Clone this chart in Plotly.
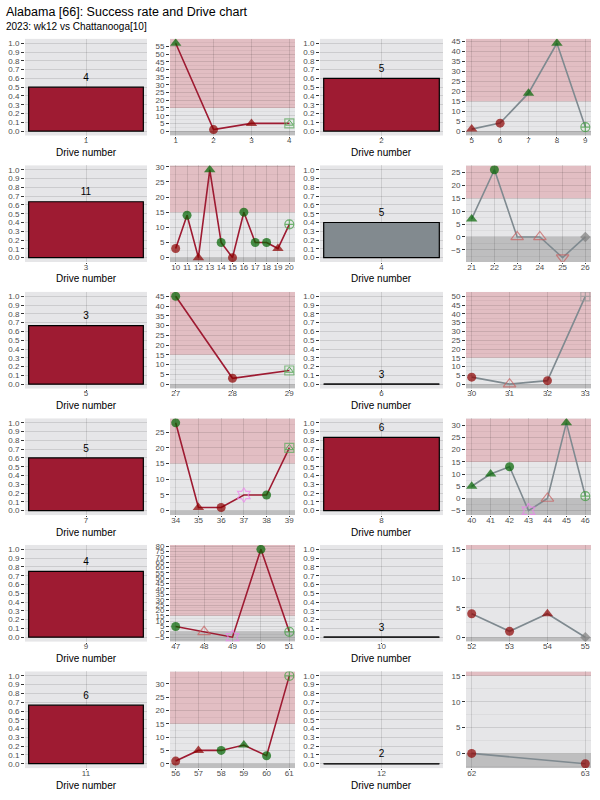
import plotly.graph_objects as go

# ---------------- data ----------------
drive_numbers = [1, 2, 3, 4, 5, 6, 7, 8, 9, 10, 11, 12]
drive_play_counts = [4, 5, 11, 5, 3, 3, 5, 6, 4, 3, 6, 2]
drive_success_rates = [0.5, 0.6, 7 / 11, 0.4, 2 / 3, 0.0, 0.6, 5 / 6, 0.75, 0.0, 2 / 3, 0.0]
bar_kind = ["c", "c", "c", "g", "c", "c", "c", "c", "c", "c", "c", "c"]
line_kind = ["c", "g", "c", "g", "c", "g", "c", "g", "c", "g", "c", "g"]

play_ids = [
    [1, 2, 3, 4],
    [5, 6, 7, 8, 9],
    [10, 11, 12, 13, 14, 15, 16, 17, 18, 19, 20],
    [21, 22, 23, 24, 25, 26],
    [27, 28, 29],
    [30, 31, 32, 33],
    [34, 35, 36, 37, 38, 39],
    [40, 41, 42, 43, 44, 45, 46],
    [47, 48, 49, 50, 51],
    [52, 53, 54, 55],
    [56, 57, 58, 59, 60, 61],
    [62, 63],
]
play_yards = [
    [57, 1, 5, 5],
    [1, 4, 19, 44, 2],
    [3, 14, 0, 29, 5, 0, 15, 5, 5, 3, 11],
    [7, 26, 0, 0, -8, 0],
    [45, 3, 7],
    [4, 0, 2, 50],
    [28, 1, 1, 5, 5, 20],
    [5, 10, 13, -5, 0, 31, 1],
    [5, 0, -5, 77, 0],
    [4, 1, 4, 0],
    [1, 5, 5, 7, 3, 33],
    [0, -2],
]
# R run, P pass, I incomplete, K kick, F field goal, S sack, E end, T turnover, X other
play_types = [
    ["P", "R", "P", "F"],
    ["P", "R", "P", "P", "K"],
    ["R", "R", "P", "P", "R", "R", "R", "R", "R", "P", "K"],
    ["P", "R", "I", "I", "T", "E"],
    ["R", "R", "F"],
    ["R", "I", "R", "X"],
    ["R", "P", "R", "S", "R", "F"],
    ["P", "P", "R", "S", "I", "P", "K"],
    ["R", "I", "S", "R", "K"],
    ["R", "R", "P", "E"],
    ["R", "P", "R", "P", "R", "K"],
    ["R", "R"],
]
play_success = [
    [1, 0, 0, 1],
    [0, 0, 1, 1, 1],
    [0, 1, 0, 1, 1, 0, 1, 1, 1, 0, 1],
    [1, 1, 0, 0, 0, 0],
    [1, 0, 1],
    [0, 0, 0, 0],
    [1, 0, 0, 0, 1, 1],
    [1, 1, 1, 0, 0, 1, 1],
    [1, 0, 0, 1, 1],
    [0, 0, 0, 0],
    [0, 0, 1, 1, 1, 1],
    [0, 0],
]

# ---------------- style ----------------
W, H = 600, 800
FONT = "Liberation Sans, Arial, sans-serif"
CRIMSON = "#9E1B32"
GRAYBAR = "#828A8F"
PANEL_BG = "#E6E6E8"
GRID = "rgba(0,0,0,0.11)"
MINOR = "rgba(0,0,0,0.045)"
GREEN = "#006400"
DARKRED = "#8B0000"

sym_map = {"R": "circle", "P": "triangle-up", "I": "triangle-up-open", "K": "circle-cross-open",
           "F": "square-open", "S": "hexagram-open", "E": "diamond", "T": "triangle-down-open",
           "X": "square-cross-open"}
size_map = {"R": 9, "P": 10, "I": 11, "K": 9, "F": 9, "S": 11, "E": 8, "T": 11, "X": 9}
fixed_col = {"I": "#C86060", "K": "#3A9A3A", "F": "#5AAA5A", "S": "#EE82EE", "E": "#7F7F7F",
             "T": "#C86060", "X": "#9A9A9A"}

row_top0, row_step, panel_h = 36, 127, 97
col_x = [(25, 147), (170, 295), (320, 443), (466, 591)]

fig = go.Figure()
layout = dict(width=W, height=H, margin=dict(l=0, r=0, t=0, b=0),
              paper_bgcolor="white", plot_bgcolor=PANEL_BG, showlegend=False,
              font=dict(family=FONT), shapes=[], annotations=[])


def axname(prefix, k):
    return prefix + ("" if k == 1 else str(k))


def base_axis():
    return dict(showgrid=True, gridcolor=GRID, gridwidth=1, zeroline=False, ticks="outside",
                ticklen=3, tickcolor="#333333", tickwidth=1, showline=False, fixedrange=True,
                tickfont=dict(size=8, color="#4D4D4D", family=FONT))


BW = 0.94
for d in range(12):
    r = d // 2
    for half in range(2):
        c = (d % 2) * 2 + half
        k = r * 4 + c + 1
        top = row_top0 + r * row_step
        bot = top + panel_h
        x0p, x1p = col_x[c]
        xa = base_axis()
        ya = base_axis()
        xa.update(domain=[x0p / W, x1p / W], anchor=axname("y", k), tickangle=0, ticklen=1,
                  ticklabelstandoff=-4)
        ya.update(domain=[1 - bot / H, 1 - top / H], anchor=axname("x", k))
        xr, yr = axname("x", k), axname("y", k)
        if half == 0:
            rate = drive_success_rates[d]
            col = CRIMSON if bar_kind[d] == "c" else GRAYBAR
            fig.add_trace(go.Bar(x=[0], y=[rate], width=BW, marker=dict(color=col, line=dict(color="black", width=1.2)),
                                 xaxis=xr, yaxis=yr, hoverinfo="skip"))
            if rate == 0:
                fig.add_trace(go.Scatter(x=[-BW / 2, BW / 2], y=[rate, rate], mode="lines",
                                         line=dict(color="#222222", width=1.5), xaxis=xr, yaxis=yr, hoverinfo="skip"))
            fig.add_trace(go.Scatter(x=[0], y=[rate + 0.1], mode="text", text=[str(drive_play_counts[d])],
                                     textfont=dict(size=10, color="black", family=FONT), xaxis=xr, yaxis=yr,
                                     hoverinfo="skip"))
            xa.update(range=[-0.5, 0.5], tickvals=[0], ticktext=[str(drive_numbers[d])])
            ya.update(range=[-0.05, 1.05], tickvals=[i / 10 for i in range(11)], tickformat=".1f")
            layout["annotations"].append(dict(text="Drive number", xref="paper", yref="paper",
                                              x=(x0p + x1p) / 2 / W, y=1 - (bot + 17) / H,
                                              xanchor="center", yanchor="middle", showarrow=False,
                                              font=dict(size=10, color="black", family=FONT)))
        else:
            ids, yds, tps, suc = play_ids[d], play_yards[d], play_types[d], play_success[d]
            lo = min(min(yds), 0)
            hi = max(max(yds), 15)
            pad = 0.05 * (hi - lo)
            y_lo, y_hi = lo - pad, hi + pad
            xpad = 0.05 * (max(ids) - min(ids))
            xa.update(range=[min(ids) - xpad, max(ids) + xpad], tickvals=ids, ticktext=[str(i) for i in ids])
            ya.update(range=[y_lo, y_hi], tick0=0, dtick=5,
                      minor=dict(showgrid=True, gridcolor=MINOR, gridwidth=0.6, dtick=2.5, tick0=0, ticks=""))
            layout["shapes"].append(dict(type="rect", xref=xr + " domain", yref=yr, x0=0, x1=1, y0=15, y1=y_hi,
                                         fillcolor="rgba(215,70,85,0.25)", line=dict(width=0), layer="below"))
            layout["shapes"].append(dict(type="rect", xref=xr + " domain", yref=yr, x0=0, x1=1, y0=y_lo, y1=0,
                                         fillcolor="rgba(110,110,110,0.33)", line=dict(width=0), layer="below"))
            lc = CRIMSON if line_kind[d] == "c" else "#7F8A90"
            fig.add_trace(go.Scatter(x=ids, y=yds, mode="lines", line=dict(color=lc, width=1.6),
                                     xaxis=xr, yaxis=yr, hoverinfo="skip"))
            cols = [fixed_col.get(t, GREEN if s else DARKRED) for t, s in zip(tps, suc)]
            syms = [sym_map[t] for t in tps]
            sizes = [size_map[t] for t in tps]
            lws = [1.2 if "open" in sm else 0 for sm in syms]
            fig.add_trace(go.Scatter(x=ids, y=yds, mode="markers",
                                     marker=dict(symbol=syms, color=cols, size=sizes, line=dict(width=lws, color=cols)),
                                     xaxis=xr, yaxis=yr, hoverinfo="skip"))
            fx = [i for i, t in zip(ids, tps) if t == "F"]
            fy = [y for y, t in zip(yds, tps) if t == "F"]
            if fx:
                fig.add_trace(go.Scatter(x=fx, y=fy, mode="markers",
                                         marker=dict(symbol="triangle-up-open", color=fixed_col["F"], size=7,
                                                     line=dict(width=1, color=fixed_col["F"])),
                                         xaxis=xr, yaxis=yr, hoverinfo="skip"))
        layout[axname("xaxis", k)] = xa
        layout[axname("yaxis", k)] = ya

layout["annotations"].append(dict(text="Alabama [66]: Success rate and Drive chart", xref="paper", yref="paper",
                                  x=4 / W, y=1 - 9 / H, xanchor="left", yanchor="middle", showarrow=False,
                                  font=dict(size=12.5, color="black", family=FONT)))
layout["annotations"].append(dict(text="2023: wk12 vs Chattanooga[10]", xref="paper", yref="paper",
                                  x=4 / W, y=1 - 24 / H, xanchor="left", yanchor="middle", showarrow=False,
                                  font=dict(size=10, color="black", family=FONT)))
fig.update_layout(**layout)
fig.write_html("out.html")
